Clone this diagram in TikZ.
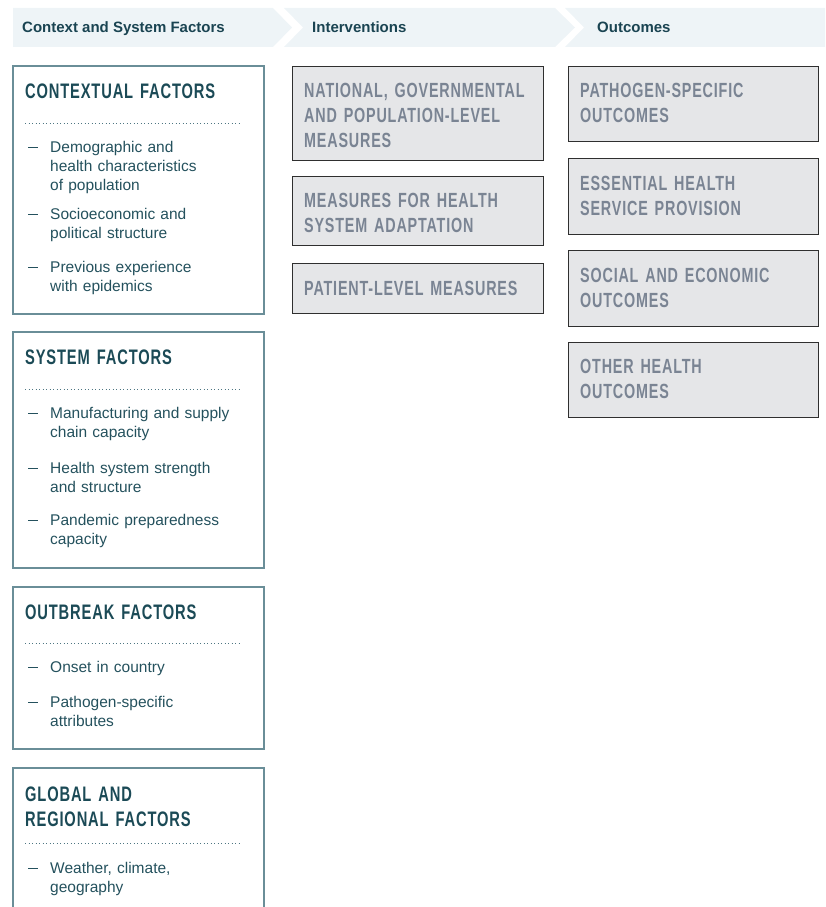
\documentclass[tikz,border=0pt]{standalone}
\usepackage{fontspec}
\setmainfont{Liberation Sans}
\newfontfamily\headfont[FakeStretch=0.7,LetterSpace=4]{Liberation Sans}

\definecolor{bandbg}{HTML}{EEF4F7}
\definecolor{headtxt}{HTML}{1A4452}
\definecolor{factoredge}{HTML}{6A8E98}
\definecolor{titletxt}{HTML}{1B4A56}
\definecolor{bodytxt}{HTML}{24515D}
\definecolor{dotcol}{HTML}{4E7682}
\definecolor{grayfill}{HTML}{E5E6E8}
\definecolor{grayedge}{HTML}{2F2F2F}
\definecolor{graytxt}{HTML}{7A8493}

\begin{document}
\begin{tikzpicture}[x=1pt,y=-1pt,
  band/.style={fill=bandbg,draw=none},
  bandtext/.style={font=\fontsize{15}{18}\selectfont\bfseries,text=headtxt,anchor=base west,inner sep=0},
  factorbox/.style={draw=factoredge,line width=1.1pt},
  factortitle/.style={font=\headfont\bfseries\fontsize{21}{25}\selectfont,text=titletxt,anchor=base west,inner sep=0,text width=230pt,align=left},
  sepline/.style={draw=dotcol,line width=1pt,dash pattern=on 0.9pt off 2.6pt},
  itemtext/.style={font=\fontsize{15.5}{19}\selectfont,text=bodytxt,anchor=base west,inner sep=0,text width=200pt,align=left},
  bulletmark/.style={font=\fontsize{15.5}{19}\selectfont,text=bodytxt,anchor=base west,inner sep=0},
  measurebox/.style={draw=grayedge,fill=grayfill,line width=0.9pt},
  measuretext/.style={font=\headfont\bfseries\fontsize{20.5}{25}\selectfont,text=graytxt,anchor=base west,inner sep=0,text width=240pt,align=left}
]
\useasboundingbox (0,0) rectangle (825,907);
\clip (0,0) rectangle (825,907);

% a list dash, drawn as a rule at mid x-height
\newcommand{\listdash}{\rule[3.6pt]{10pt}{1.3pt}}

% ---- column header band (chevrons) ----
\fill[band] (13,8) -- (273,8) -- (292,27.5) -- (273,47) -- (13,47) -- cycle;
\fill[band] (284,8) -- (555,8) -- (575,27.5) -- (555,47) -- (284,47) -- (303,27.5) -- cycle;
\fill[band] (565,8) -- (825,8) -- (825,47) -- (565,47) -- (584,27.5) -- cycle;
\node[bandtext] (h1) at (22,32.5) {Context and System Factors};
\node[bandtext] (h2) at (312,32.5) {Interventions};
\node[bandtext] (h3) at (597,32.5) {Outcomes};

% ---- context and system factors ----
% contextual factors
\draw[factorbox] (13,66) rectangle (264,314);
\node[factortitle] (ct) at (25,98) {CONTEXTUAL FACTORS};
\draw[sepline] (25,123) -- (241,123);
\node[bulletmark] (cd1) at (28,152) {\listdash};
\node[itemtext] (c1) at (50,152) {Demographic and\\health characteristics\\of population};
\node[bulletmark] (cd2) at (28,219) {\listdash};
\node[itemtext] (c2) at (50,219) {Socioeconomic and\\political structure};
\node[bulletmark] (cd3) at (28,272) {\listdash};
\node[itemtext] (c3) at (50,272) {Previous experience\\with epidemics};

% system factors
\draw[factorbox] (13,332) rectangle (264,568);
\node[factortitle] (st) at (25,364.5) {SYSTEM FACTORS};
\draw[sepline] (25,389) -- (241,389);
\node[bulletmark] (sd1) at (28,418) {\listdash};
\node[itemtext] (s1) at (50,418) {Manufacturing and supply\\chain capacity};
\node[bulletmark] (sd2) at (28,473) {\listdash};
\node[itemtext] (s2) at (50,473) {Health system strength\\and structure};
\node[bulletmark] (sd3) at (28,525) {\listdash};
\node[itemtext] (s3) at (50,525) {Pandemic preparedness\\capacity};

% outbreak factors
\draw[factorbox] (13,587) rectangle (264,749);
\node[factortitle] (ot) at (25,619) {OUTBREAK FACTORS};
\draw[sepline] (25,643) -- (241,643);
\node[bulletmark] (od1) at (28,672) {\listdash};
\node[itemtext] (o1) at (50,672) {Onset in country};
\node[bulletmark] (od2) at (28,707) {\listdash};
\node[itemtext] (o2) at (50,707) {Pathogen-specific\\attributes};

% global and regional factors
\draw[factorbox] (13,930) -- (13,768) -- (264,768) -- (264,930);
\node[factortitle] (gt) at (25,801) {GLOBAL AND\\REGIONAL FACTORS};
\draw[sepline] (25,843) -- (241,843);
\node[bulletmark] (gd1) at (28,873) {\listdash};
\node[itemtext] (g1) at (50,873) {Weather, climate,\\geography};

% ---- interventions ----
\draw[measurebox] (292,66) rectangle (543,160);
\node[measuretext] (i1) at (304,97.5) {NATIONAL, GOVERNMENTAL\\AND POPULATION-LEVEL\\MEASURES};
\draw[measurebox] (292,176) rectangle (543,245);
\node[measuretext] (i2) at (304,207.5) {MEASURES FOR HEALTH\\SYSTEM ADAPTATION};
\draw[measurebox] (292,263) rectangle (543,313);
\node[measuretext] (i3) at (304,295) {PATIENT-LEVEL MEASURES};

% ---- outcomes ----
\draw[measurebox] (568,66) rectangle (818,141);
\node[measuretext] (r1) at (580,97.5) {PATHOGEN-SPECIFIC\\OUTCOMES};
\draw[measurebox] (568,158) rectangle (818,234);
\node[measuretext] (r2) at (580,190) {ESSENTIAL HEALTH\\SERVICE PROVISION};
\draw[measurebox] (568,250) rectangle (818,326);
\node[measuretext] (r3) at (580,282) {SOCIAL AND ECONOMIC\\OUTCOMES};
\draw[measurebox] (568,342) rectangle (818,417);
\node[measuretext] (r4) at (580,373.5) {OTHER HEALTH\\OUTCOMES};
\end{tikzpicture}
\end{document}
